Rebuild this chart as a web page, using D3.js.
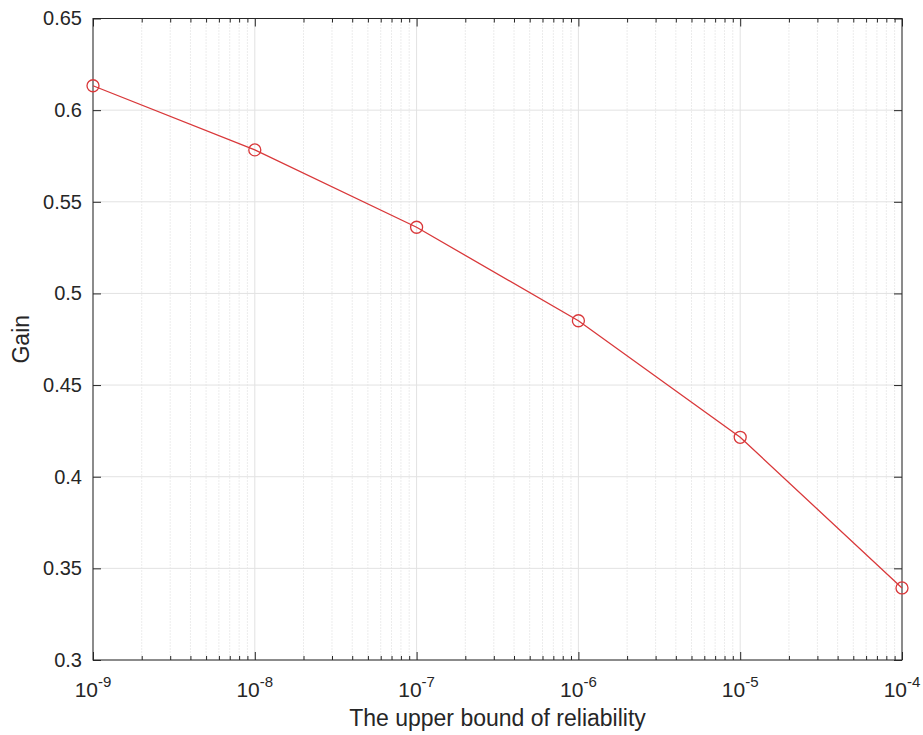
<!DOCTYPE html>
<html>
<head>
<meta charset="utf-8">
<script src="https://cdn.jsdelivr.net/npm/d3@7"></script>
<style>
  body { margin: 0; background: #fff; }
  text { font-family: "Liberation Sans", Arial, sans-serif; fill: #262626; }
</style>
</head>
<body>
<svg id="chart" width="923" height="735"></svg>
<script>
// data
const reliability = [1e-9, 1e-8, 1e-7, 1e-6, 1e-5, 1e-4];
const gain = [0.6133, 0.5783, 0.5361, 0.4851, 0.4215, 0.3393];
const yTicks = [0.3, 0.35, 0.4, 0.45, 0.5, 0.55, 0.6, 0.65];
const xExponents = [-9, -8, -7, -6, -5, -4];

const plotLeft = 93, plotRight = 902, plotTop = 18.5, plotBottom = 660;
const svg = d3.select("#chart");

const x = d3.scaleLog().domain([1e-9, 1e-4]).range([plotLeft, plotRight]);
const y = d3.scaleLinear().domain([0.3, 0.65]).range([plotBottom, plotTop]);

// minor ticks (2..9 in each decade)
let minor = [];
for (const e of xExponents.slice(0, -1)) {
    for (let m = 2; m < 10; m++) minor.push(m * Math.pow(10, e));
}
const major = xExponents.map(e => Math.pow(10, e));

// minor grid (dotted)
svg.append("g").selectAll("line").data(minor).join("line")
    .attr("x1", d => x(d)).attr("x2", d => x(d))
    .attr("y1", plotTop).attr("y2", plotBottom)
    .style("stroke", "#d8d8d8")
    .style("stroke-width", 1)
    .style("stroke-dasharray", "1,2");

// major grid
svg.append("g").selectAll("line").data(major).join("line")
    .attr("x1", d => x(d)).attr("x2", d => x(d))
    .attr("y1", plotTop).attr("y2", plotBottom)
    .style("stroke", "#e2e2e2").style("stroke-width", 1);
svg.append("g").selectAll("line").data(yTicks).join("line")
    .attr("x1", plotLeft).attr("x2", plotRight)
    .attr("y1", d => y(d)).attr("y2", d => y(d))
    .style("stroke", "#e2e2e2").style("stroke-width", 1);

// axes with inward ticks on all sides
const axisColor = "#262626";
function styleAxis(g) {
    g.select(".domain").remove();
    g.selectAll(".tick line").style("stroke", axisColor);
}
svg.append("g").attr("transform", `translate(0,${plotBottom})`)
    .call(d3.axisBottom(x).tickValues(major).tickSizeInner(-8).tickFormat(""))
    .call(styleAxis);
svg.append("g").attr("transform", `translate(0,${plotBottom})`)
    .call(d3.axisBottom(x).tickValues(minor).tickSizeInner(-4).tickFormat(""))
    .call(styleAxis);
svg.append("g").attr("transform", `translate(0,${plotTop})`)
    .call(d3.axisTop(x).tickValues(major).tickSizeInner(-8).tickFormat(""))
    .call(styleAxis);
svg.append("g").attr("transform", `translate(0,${plotTop})`)
    .call(d3.axisTop(x).tickValues(minor).tickSizeInner(-4).tickFormat(""))
    .call(styleAxis);
svg.append("g").attr("transform", `translate(${plotLeft},0)`)
    .call(d3.axisLeft(y).tickValues(yTicks).tickSizeInner(-8).tickPadding(11).tickFormat(d3.format("")))
    .call(g => {
        styleAxis(g);
        g.selectAll(".tick text").style("font-size", "20px").style("fill", axisColor)
            .style("font-family", '"Liberation Sans", Arial, sans-serif');
    });
svg.append("g").attr("transform", `translate(${plotRight},0)`)
    .call(d3.axisRight(y).tickValues(yTicks).tickSizeInner(-8).tickFormat(""))
    .call(styleAxis);

// box
svg.append("rect")
    .attr("x", plotLeft).attr("y", plotTop)
    .attr("width", plotRight - plotLeft).attr("height", plotBottom - plotTop)
    .style("fill", "none").style("stroke", axisColor).style("stroke-width", 1);

// x tick labels 10^e
const xl = svg.append("g").selectAll("text").data(xExponents).join("text")
    .attr("x", d => x(Math.pow(10, d)))
    .attr("y", 697)
    .attr("text-anchor", "middle")
    .style("font-size", "21px");
xl.append("tspan").text("10");
xl.append("tspan").attr("dy", -10).style("font-size", "15px").text(d => "-" + Math.abs(d));

// axis labels
svg.append("text")
    .attr("x", (plotLeft + plotRight) / 2).attr("y", 726)
    .attr("text-anchor", "middle")
    .style("font-size", "23px")
    .text("The upper bound of reliability");
svg.append("text")
    .attr("transform", `translate(29,${(plotTop + plotBottom) / 2}) rotate(-90)`)
    .attr("text-anchor", "middle")
    .style("font-size", "23px")
    .text("Gain");

// line + circle markers
const red = "#d9383a";
svg.append("path")
    .datum(reliability.map((r, i) => [r, gain[i]]))
    .attr("d", d3.line().x(d => x(d[0])).y(d => y(d[1])))
    .style("fill", "none").style("stroke", red).style("stroke-width", 1.3);
svg.append("g").selectAll("circle").data(reliability).join("circle")
    .attr("cx", d => x(d))
    .attr("cy", (d, i) => y(gain[i]))
    .attr("r", 6)
    .style("fill", "none").style("stroke", red).style("stroke-width", 1.3);
</script>
</body>
</html>
